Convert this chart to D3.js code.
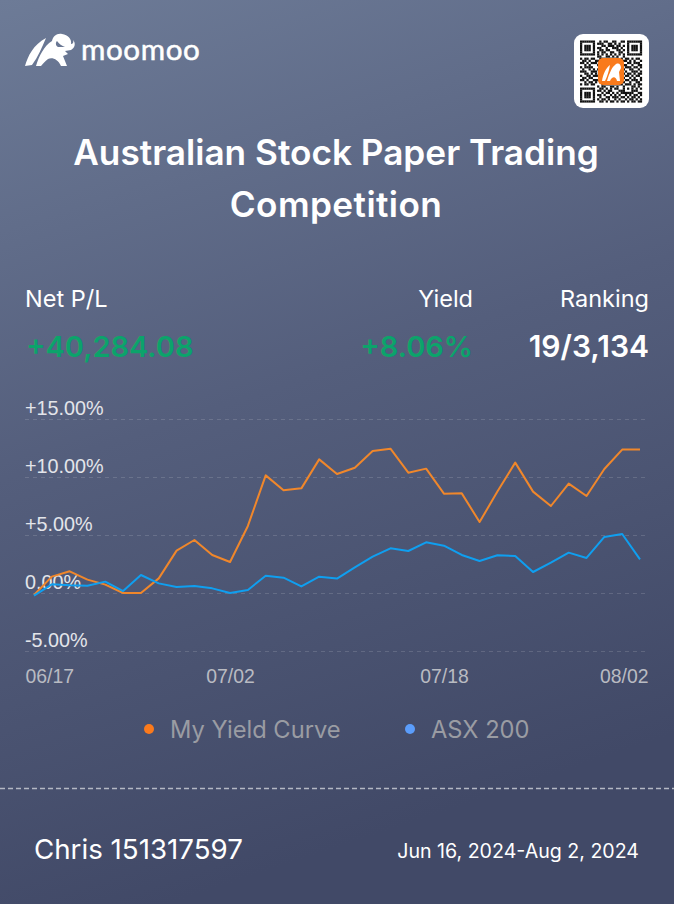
<!DOCTYPE html>
<html><head><meta charset="utf-8">
<script src="https://cdn.jsdelivr.net/npm/d3@7"></script>
<style>html,body{margin:0;padding:0;background:#4d5674}svg{display:block;font-family:Inter,"Open Sans",sans-serif}</style>
</head><body><svg id="c" width="674" height="904"></svg>
<script>
const dates=["06/17","06/18","06/19","06/20","06/21","06/24","06/25","06/26","06/27","06/28","07/01","07/02","07/03","07/04","07/05","07/08","07/09","07/10","07/11","07/12","07/15","07/16","07/17","07/18","07/19","07/22","07/23","07/24","07/25","07/26","07/29","07/30","07/31","08/01","08/02"];
const myYield=[-0.17,1.41,1.87,1.15,0.72,0,0,1.26,3.65,4.57,3.28,2.67,5.78,10.14,8.85,9.02,11.52,10.26,10.80,12.24,12.44,10.37,10.72,8.56,8.59,6.12,8.74,11.24,8.74,7.50,9.43,8.36,10.69,12.36,12.36];
const asx200=[-0.23,0.75,0.66,0.63,0.98,0.17,1.55,0.83,0.52,0.60,0.40,0,0.26,1.49,1.32,0.57,1.41,1.24,2.21,3.13,3.85,3.62,4.37,4.08,3.28,2.76,3.25,3.19,1.81,2.61,3.48,3.02,4.83,5.09,2.90];
const yTicks=[-5,0,5,10,15];
const xTickLabels=["06/17","07/02","07/18","08/02"];
const seriesNames=["My Yield Curve","ASX 200"];
const qrRows=[
"11111110010110011001101111111","10000010111001101010001000001","10111010001101110110101011101","10111010110010011101001011101","10111010011011000110101011101","10000010101100110011001000001","11111110101010101010101111111","00000000110011010100100000000",
"10110110011100101101011010110","01101001100110011010110101001","11010111010001100111001101110","00101000101110011000110010011","10111100011000000011011101101","01001010110000000001100110010","11100111001000000011010011101","00110101010000000000101101011","10011011100000000010011010110",
"01101100011000000011100101001","11010011101110011100011011101","00101101010101100110100100110","10110110001011001011011101011","00000000101100110100100011010","11111110011010101100101010101","10000010110101100011100011100","10111010001011010101111110011","10111010110100101010010101101","10111010010011011101101011010","10000010101101001010010110101","11111110011010110101101011011"];
const svg=d3.select("#c");
const defs=svg.append("defs");
const g=defs.append("linearGradient").attr("id","bg").attr("x1",0).attr("y1",0).attr("x2",0.25).attr("y2",1);
g.append("stop").attr("offset",0).attr("stop-color","#6d7b97");
g.append("stop").attr("offset",0.5).attr("stop-color","#545e7c");
g.append("stop").attr("offset",1).attr("stop-color","#414967");
svg.append("rect").attr("width",674).attr("height",904).attr("fill","url(#bg)");

// logo
const logo=svg.append("g").attr("fill","#fff");
logo.append("path").attr("d","M25 66 C28 56 33 45 46 38 C42 47 38 57 32 65 Z");
logo.append("path").attr("d","M36 66 C39 56 44 46 52 41 C53 36 57 33 62 34 C68 35 72 39 71 44 C73 44 74 42 73 40 C76 43 75 48 71 50 L65 51 L68 54 L63 56 L67 66 L61 66 C58 59 52 57 48 59 C45 61 43 64 41 66 Z M57 41 C55 43 56 46 58 47 L65 47 C62 46 59 44 57 41 Z");
svg.append("text").attr("x",81).attr("y",60).attr("font-size",29.6).attr("font-weight",400).attr("fill","#fff").attr("stroke","#fff").attr("stroke-width",.5).style("font-family","Lato").attr("letter-spacing",0.6).text("moomoo");

// QR
svg.append("rect").attr("x",574).attr("y",34).attr("width",75).attr("height",74).attr("rx",9).attr("fill","#fff");
const qs=62/29;
const qr=svg.append("g").attr("transform","translate(580,40.5)");
qrRows.forEach((r,i)=>[...r].forEach((b,j)=>{if(b==="1")qr.append("rect").attr("x",j*qs).attr("y",i*qs).attr("width",qs+.1).attr("height",qs+.1).attr("fill","#111");}));
svg.append("rect").attr("x",598).attr("y",58).attr("width",26).attr("height",27).attr("rx",5).attr("fill","#f97a1c");
svg.append("path").attr("fill","#fff").attr("d","M602 81 C603 74 606 68 610 65 C609 71 607 77 605 81 Z M607 81 C609 74 612 67 615 65 C618 62 621 64 621 68 L619 72 L620 81 L617 81 C616 76 612 76 610 81 Z");

// title
const title=svg.append("g").attr("fill","#fff").attr("text-anchor","middle").attr("font-weight",600).attr("font-size",35.2);
title.append("text").attr("x",336).attr("y",165).text("Australian Stock Paper Trading");
title.append("text").attr("x",336).attr("y",217).attr("letter-spacing",0.4).text("Competition");

// stats
const st=(x,y,a,s,c,w,t)=>svg.append("text").attr("x",x).attr("y",y).attr("text-anchor",a).attr("font-size",s).attr("fill",c).attr("font-weight",w).text(t);
st(25,307,"start",23.5,"#fff",400,"Net P/L");
st(473,307,"end",23.5,"#fff",400,"Yield");
st(649,307,"end",23.5,"#fff",400,"Ranking");
st(26,357,"start",29,"#0ca36b",600,"+40,284.08");
st(473,357,"end",29,"#0ca36b",600,"+8.06%");
st(649,357,"end",30,"#fff",600,"19/3,134");

// chart
const x=d3.scalePoint().domain(dates).range([34,640]);
const y=d3.scaleLinear().domain([-5,15]).range([651,419]);
const fmtY=v=>v===0?"0.00%":(v>0?"+":"")+v.toFixed(2)+"%";
const yAxis=svg.append("g").attr("transform","translate(25,0)")
 .call(d3.axisRight(y).tickValues(yTicks).tickSize(620).tickFormat(fmtY));
yAxis.select(".domain").remove();
yAxis.selectAll("line").attr("stroke","#fff").attr("stroke-opacity",.14).attr("stroke-dasharray","4 4");
yAxis.selectAll("text").attr("x",0).attr("dy",-4.5).attr("text-anchor","start").style("font-family","'Liberation Sans'").attr("font-size",19.8).attr("fill","#e3e5ea");
const xAxis=svg.append("g").attr("transform","translate(0,652)")
 .call(d3.axisBottom(x).tickValues(xTickLabels).tickSize(0));
xAxis.select(".domain").remove();
xAxis.selectAll("text").attr("y",17).attr("dy","0.71em").style("font-family","'Liberation Sans'").attr("font-size",19.4).attr("fill","#b9bbc2")
 .attr("text-anchor",d=>d==="06/17"?"start":d==="08/02"?"end":"middle")
 .attr("dx",d=>d==="06/17"?-9:d==="08/02"?8:0);
const line=d3.line().x((d,i)=>x(dates[i])).y(d=>y(d));
svg.append("path").datum(myYield).attr("d",line).attr("fill","none").attr("stroke","#f0872b").attr("stroke-width",2).attr("stroke-linejoin","round");
svg.append("path").datum(asx200).attr("d",line).attr("fill","none").attr("stroke","#0f9ff0").attr("stroke-width",2).attr("stroke-linejoin","round");

// legend
const leg=[{c:"#fb7a1c",cx:149,tx:170},{c:"#5b9dfb",cx:410,tx:431}];
leg.forEach((l,i)=>{
 svg.append("circle").attr("cx",l.cx).attr("cy",729).attr("r",5).attr("fill",l.c);
 svg.append("text").attr("x",l.tx).attr("y",738).attr("font-size",23.7).attr("fill","#9a9ca3").text(seriesNames[i]);
});
svg.append("line").attr("x1",0).attr("x2",674).attr("y1",788.5).attr("y2",788.5).attr("stroke","#b4b8c4").attr("stroke-width",1.4).attr("stroke-dasharray","5 3");
st(34,859,"start",27.7,"#fff",400,"Chris 151317597");
st(639,858,"end",19.6,"#fff",400,"Jun 16, 2024-Aug 2, 2024");
</script></body></html>
